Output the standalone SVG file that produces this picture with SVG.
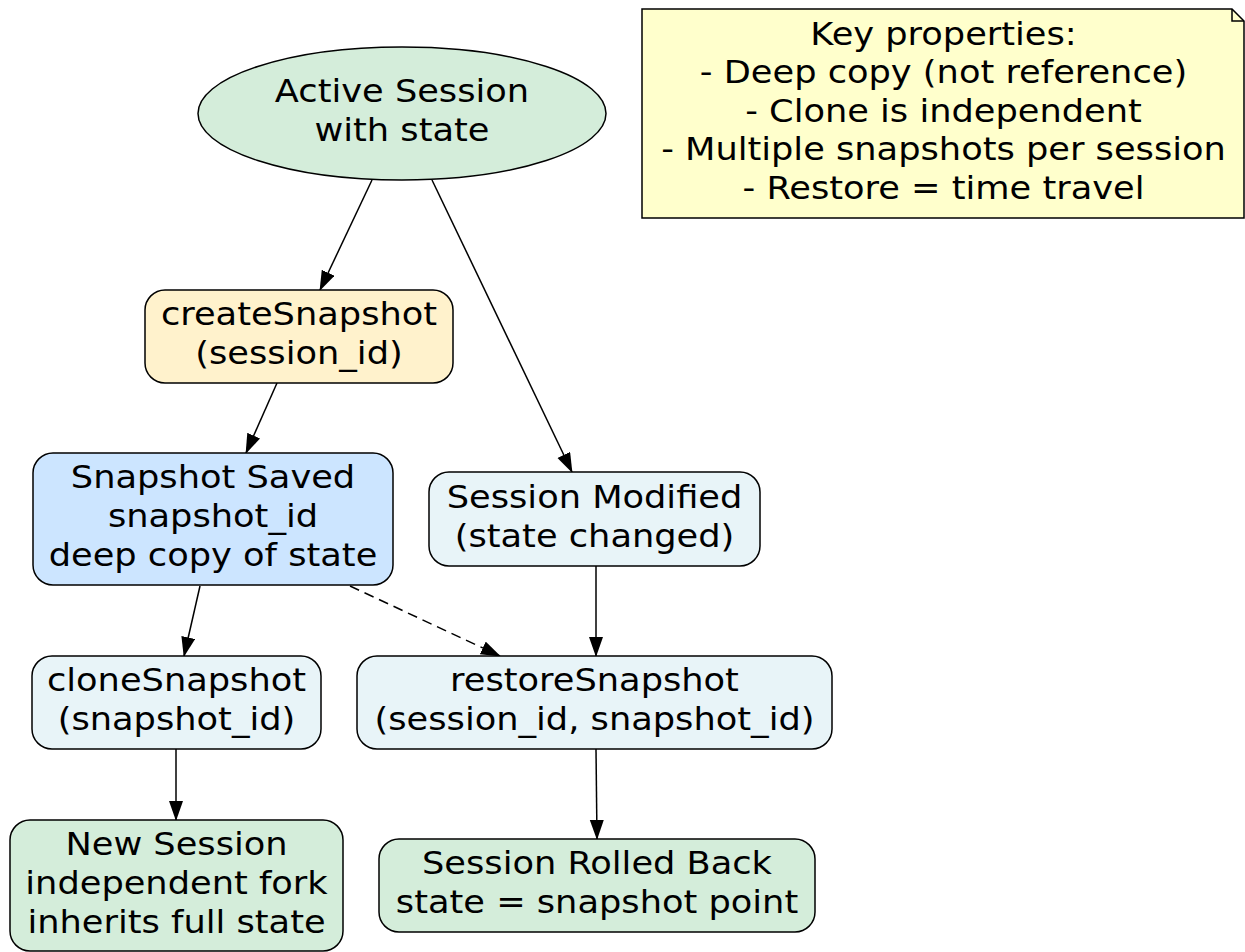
<svg xmlns="http://www.w3.org/2000/svg" width="1245" height="952" viewBox="0 0 1245 952">
<style>
.t{font-family:"DejaVu Sans",sans-serif;font-size:32px;fill:#000;text-anchor:middle}
.n{stroke:#000;stroke-width:1.5}
.e{fill:none;stroke:#000;stroke-width:1.5}
.d{stroke-dasharray:10,6}
</style>
<defs>
<marker id="ah" markerUnits="userSpaceOnUse" markerWidth="22" markerHeight="16" refX="19" refY="7" orient="auto">
<path d="M0,0 L20,7 L0,14 z" fill="#000"/>
</marker>
</defs>
<rect width="1245" height="952" fill="#fff"/>
<g id="connectors">
<line class="e" x1="372" y1="180" x2="320" y2="290" marker-end="url(#ah)"/>
<line class="e" x1="432" y1="180" x2="572" y2="472" marker-end="url(#ah)"/>
<line class="e" x1="277" y1="383" x2="246" y2="453" marker-end="url(#ah)"/>
<line class="e" x1="200" y1="586" x2="184" y2="656" marker-end="url(#ah)"/>
<line class="e d" x1="350" y1="586" x2="500" y2="656" marker-end="url(#ah)"/>
<line class="e" x1="596" y1="566" x2="596" y2="656" marker-end="url(#ah)"/>
<line class="e" x1="176" y1="749" x2="176" y2="820" marker-end="url(#ah)"/>
<line class="e" x1="596" y1="749" x2="597" y2="839" marker-end="url(#ah)"/>
</g>
<g id="active">
<ellipse class="n" cx="402" cy="113.5" rx="204" ry="66.5" fill="#d4edda"/>
<text class="t" transform="translate(402 0) scale(1.1 1)"><tspan x="0" y="102.5">Active Session</tspan><tspan x="0" y="141.5">with state</tspan></text>
</g>
<g id="create">
<rect class="n" x="145" y="290" width="308" height="93" rx="20" fill="#fff2cc"/>
<text class="t" transform="translate(299 0) scale(1.1 1)"><tspan x="0" y="325.5">createSnapshot</tspan><tspan x="0" y="364.5">(session_id)</tspan></text>
</g>
<g id="saved">
<rect class="n" x="33" y="453" width="360" height="132" rx="20" fill="#cce5ff"/>
<text class="t" transform="translate(213 0) scale(1.1 1)"><tspan x="0" y="488.5">Snapshot Saved</tspan><tspan x="0" y="527.5">snapshot_id</tspan><tspan x="0" y="566.5">deep copy of state</tspan></text>
</g>
<g id="modified">
<rect class="n" x="429" y="472" width="331" height="94" rx="20" fill="#e8f4f8"/>
<text class="t" transform="translate(594.5 0) scale(1.1 1)"><tspan x="0" y="508">Session Modified</tspan><tspan x="0" y="547">(state changed)</tspan></text>
</g>
<g id="clone">
<rect class="n" x="32" y="656" width="289" height="93" rx="20" fill="#e8f4f8"/>
<text class="t" transform="translate(176.5 0) scale(1.1 1)"><tspan x="0" y="691.5">cloneSnapshot</tspan><tspan x="0" y="730.5">(snapshot_id)</tspan></text>
</g>
<g id="restore">
<rect class="n" x="357" y="656" width="475" height="93" rx="20" fill="#e8f4f8"/>
<text class="t" transform="translate(594.5 0) scale(1.1 1)"><tspan x="0" y="691.5">restoreSnapshot</tspan><tspan x="0" y="730.5">(session_id, snapshot_id)</tspan></text>
</g>
<g id="newsession">
<rect class="n" x="10" y="820" width="333" height="131" rx="20" fill="#d4edda"/>
<text class="t" transform="translate(176.5 0) scale(1.1 1)"><tspan x="0" y="855.5">New Session</tspan><tspan x="0" y="894.5">independent fork</tspan><tspan x="0" y="933.5">inherits full state</tspan></text>
</g>
<g id="rolledback">
<rect class="n" x="379" y="839" width="436" height="93" rx="20" fill="#d4edda"/>
<text class="t" transform="translate(597 0) scale(1.1 1)"><tspan x="0" y="874.5">Session Rolled Back</tspan><tspan x="0" y="913.5">state = snapshot point</tspan></text>
</g>
<g id="note">
<path class="n" d="M642,9 L1232,9 L1244,21 L1244,218 L642,218 Z" fill="#ffffcc"/>
<path class="n" d="M1232,9 L1232,21 L1244,21" fill="none"/>
<text class="t" transform="translate(943.5 0) scale(1.1 1)"><tspan x="0" y="45">Key properties:</tspan><tspan x="0" y="83.5">- Deep copy (not reference)</tspan><tspan x="0" y="122">- Clone is independent</tspan><tspan x="0" y="160.5">- Multiple snapshots per session</tspan><tspan x="0" y="199">- Restore = time travel</tspan></text>
</g>
</svg>
